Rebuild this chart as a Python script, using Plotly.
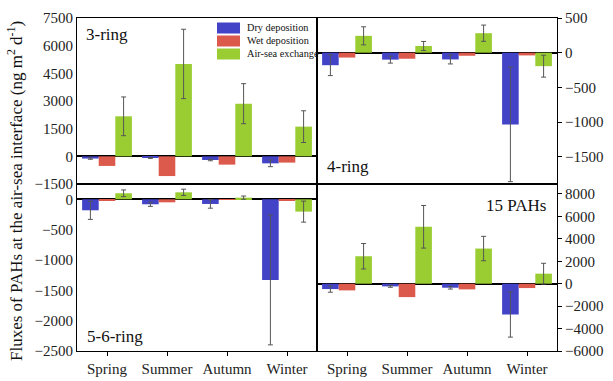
import plotly.graph_objects as go

W, H = 613, 381
seasons = ["Spring", "Summer", "Autumn", "Winter"]

# 3-ring
dry_3 = [-120, -90, -200, -380]
dry_3_err = [40, 20, 40, 180]
wet_3 = [-520, -1070, -450, -340]
air_3 = [2170, 5010, 2855, 1610]
air_3_err = [1050, 1880, 1085, 860]
# 4-ring
dry_4 = [-180, -100, -97, -1033]
dry_4_err = [150, 50, 65, 825]
wet_4 = [-70, -87, -44, -39]
air_4 = [243, 97, 281, -194]
air_4_err = [130, 65, 117, 158]
# 5-6-ring
dry_56 = [-181, -82, -77, -1329]
dry_56_err = [150, 35, 70, 1070]
wet_56 = [-22, -50, -11, -16]
air_56 = [99, 115, 27, -203]
air_56_err = [55, 52, 27, 173]
# 15 PAHs
dry_15 = [-478, -239, -358, -2746]
dry_15_err = [280, 80, 120, 2015]
wet_15 = [-597, -1194, -507, -388]
air_15 = [2448, 5075, 3134, 895]
air_15_err = [1135, 1900, 1090, 925]

series_names = ["Dry deposition", "Wet deposition", "Air-sea exchange"]
colors = ["#4343C8", "#DC5A4C", "#9ACD32"]

panels = [
    ("x", "y", dry_3, dry_3_err, wet_3, air_3, air_3_err),
    ("x2", "y2", dry_4, dry_4_err, wet_4, air_4, air_4_err),
    ("x3", "y3", dry_56, dry_56_err, wet_56, air_56, air_56_err),
    ("x4", "y4", dry_15, dry_15_err, wet_15, air_15, air_15_err),
]

FONT = "Liberation Serif"
fig = go.Figure()

def err(arr):
    return dict(type="data", array=arr, visible=True, color="#555555",
                thickness=1, width=2.5)

for xa, ya, d, de, w, a, ae in panels:
    fig.add_trace(go.Bar(x=seasons, y=d, xaxis=xa, yaxis=ya, name=series_names[0],
                         marker=dict(color=colors[0], line=dict(width=0)),
                         error_y=err(de), showlegend=False))
    fig.add_trace(go.Bar(x=seasons, y=w, xaxis=xa, yaxis=ya, name=series_names[1],
                         marker=dict(color=colors[1], line=dict(width=0)),
                         showlegend=False))
    fig.add_trace(go.Bar(x=seasons, y=a, xaxis=xa, yaxis=ya, name=series_names[2],
                         marker=dict(color=colors[2], line=dict(width=0)),
                         error_y=err(ae), showlegend=False))

xl = [77 / W, 317 / W]
xr = [317 / W, 557 / W]
yt = [(H - 184) / H, (H - 18) / H]
yb = [(H - 351) / H, (H - 184) / H]

tickfont = dict(family=FONT, size=15, color="#222222")

def xaxis(dom, anchor, labels):
    return dict(domain=dom, anchor=anchor, showline=True, mirror=True,
                linecolor="black", linewidth=1, showgrid=False, automargin=False,
                showticklabels=labels, ticks="outside" if labels else "",
                ticklen=4, tickcolor="black", tickfont=tickfont,
                categoryorder="array", categoryarray=seasons)

def yaxis(dom, anchor, rng, dtick, side):
    return dict(domain=dom, anchor=anchor, range=rng, dtick=dtick, side=side,
                showline=True, mirror=True, linecolor="black", linewidth=1,
                showgrid=False, zeroline=True, zerolinecolor="black",
                zerolinewidth=1.5, ticks="outside" if side == "right" else "",
                ticklen=4, tickcolor="black", tickfont=tickfont,
                tickformat="d", automargin=False)

fig.update_layout(
    width=W, height=H,
    margin=dict(l=0, r=0, t=0, b=0, autoexpand=False),
    paper_bgcolor="white", plot_bgcolor="white",
    barmode="group", bargap=0.17, bargroupgap=0,
    font=dict(family=FONT, color="#222222"),
    xaxis=xaxis(xl, "y", False),
    xaxis2=xaxis(xr, "y2", False),
    xaxis3=xaxis(xl, "y3", True),
    xaxis4=xaxis(xr, "y4", True),
    yaxis=yaxis(yt, "x", [-1500, 7500], 1500, "left"),
    yaxis2=yaxis(yt, "x2", [-1892, 500], 500, "right"),
    yaxis3=yaxis(yb, "x3", [-2500, 252], 500, "left"),
    yaxis4=yaxis(yb, "x4", [-6000, 8890], 2000, "right"),
)

def px_x(p):
    return p / W

def px_y(p):
    return 1 - p / H

annotations = [
    dict(text="3-ring", x=px_x(84), y=px_y(35), xanchor="left", yanchor="middle",
         font=dict(family=FONT, size=17, color="#111111")),
    dict(text="4-ring", x=px_x(325), y=px_y(166), xanchor="left", yanchor="middle",
         font=dict(family=FONT, size=17, color="#111111")),
    dict(text="5-6-ring", x=px_x(85), y=px_y(336), xanchor="left", yanchor="middle",
         font=dict(family=FONT, size=17, color="#111111")),
    dict(text="15 PAHs", x=px_x(548), y=px_y(205), xanchor="right", yanchor="middle",
         font=dict(family=FONT, size=17, color="#111111")),
    dict(text="Fluxes of PAHs at the air-sea interface (ng m<sup>2</sup> d<sup>-1</sup>)",
         x=px_x(15), y=px_y(191), xanchor="center", yanchor="middle", textangle=-90,
         font=dict(family=FONT, size=17, color="#111111")),
]
shapes = []
leg_y = [22.5, 35.5, 48.5]
for name, col, ly in zip(series_names, colors, leg_y):
    shapes.append(dict(type="rect", xref="paper", yref="paper",
                       x0=px_x(217), x1=px_x(240), y0=px_y(ly + 11), y1=px_y(ly),
                       fillcolor=col, line=dict(width=0)))
    annotations.append(dict(text=name, x=px_x(245), y=px_y(ly + 5.5),
                            xanchor="left", yanchor="middle",
                            font=dict(family=FONT, size=10.3, color="#111111")))
for a in annotations:
    a.update(xref="paper", yref="paper", showarrow=False)
fig.update_layout(annotations=annotations, shapes=shapes)

fig.write_html("out.html", config={"displayModeBar": False},
               post_script="document.body.style.margin='0';document.body.style.overflow='hidden';")
